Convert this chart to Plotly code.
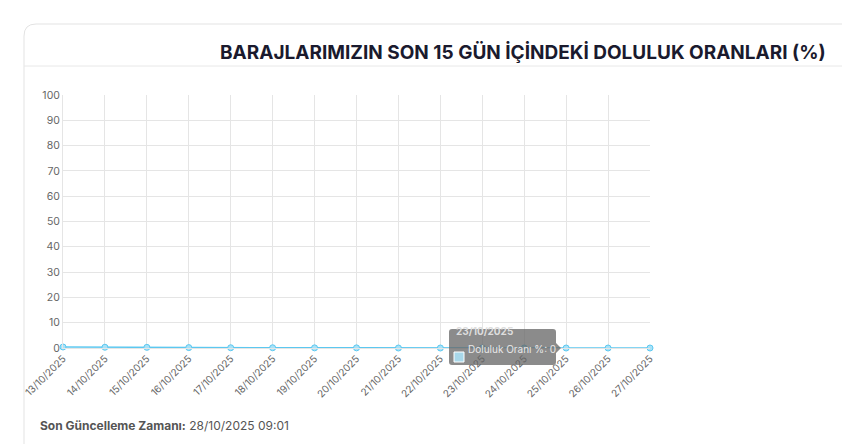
import plotly.graph_objects as go

dates = ["13/10/2025","14/10/2025","15/10/2025","16/10/2025","17/10/2025","18/10/2025","19/10/2025",
         "20/10/2025","21/10/2025","22/10/2025","23/10/2025","24/10/2025","25/10/2025","26/10/2025","27/10/2025"]
values = [0.4,0.3,0.25,0.15,0.1,0.1,0.05,0.05,0,0,0,0,0,0,0]
yticks = list(range(0,101,10))
title = "BARAJLARIMIZIN SON 15 GÜN İÇİNDEKİ DOLULUK ORANLARI (%)"

L,R,T,B = 55,642,87,340
def px(x): return (x-L)/(R-L)
def py(y): return (B-y)/(B-T)

fig = go.Figure(go.Scatter(x=list(range(len(dates))), y=values, mode="lines+markers",
    line=dict(color="#5cc8f0", width=1.5),
    marker=dict(size=6, color="#a8e2f8", line=dict(color="#5cc8f0", width=1)),
    cliponaxis=False, hoverinfo="skip"))

shapes = [
    dict(type="path", xref="paper", yref="paper", layer="below",
         path=f"M {px(870)} {py(16)} L {px(28)} {py(16)} Q {px(16)} {py(16)} {px(16)} {py(28)} L {px(16)} {py(460)}",
         line=dict(color="#e3e3e3", width=1)),
    dict(type="line", xref="paper", yref="paper", x0=px(16), x1=px(870), y0=py(58), y1=py(58),
         line=dict(color="#e8e8e8", width=1)),
    dict(type="path", xref="paper", yref="paper", fillcolor="rgba(100,100,100,0.75)", line=dict(width=0),
         path=f"M {px(444)} {py(321)} L {px(545)} {py(321)} Q {px(548)} {py(321)} {px(548)} {py(324)} L {px(548)} {py(335)} L {px(553)} {py(340)} L {px(548)} {py(345)} L {px(548)} {py(354)} Q {px(548)} {py(357)} {px(545)} {py(357)} L {px(444)} {py(357)} Q {px(441)} {py(357)} {px(441)} {py(354)} L {px(441)} {py(324)} Q {px(441)} {py(321)} {px(444)} {py(321)} Z"),
    dict(type="rect", xref="paper", yref="paper", x0=px(446), x1=px(456), y0=py(354), y1=py(344),
         fillcolor="#a8d8ea", line=dict(color="white", width=1)),
]
annotations = [
    dict(text=f"<b>{title}</b>", x=px(515), y=py(31), xref="paper", yref="paper", showarrow=False,
         xanchor="center", font=dict(size=19, color="#1a1a2e", family="Inter")),
    dict(text="<b>23/10/2025</b>", x=px(446), y=py(331), xref="paper", yref="paper", showarrow=False,
         xanchor="left", font=dict(size=10, color="#dddddd", family="Inter")),
    dict(text="Doluluk Oranı %: 0", x=px(458), y=py(349), xref="paper", yref="paper", showarrow=False,
         xanchor="left", font=dict(size=10, color="#e8e8e8", family="Inter")),
    dict(text="<b>Son Güncelleme Zamanı:</b> 28/10/2025 09:01", x=px(30), y=py(427), xref="paper", yref="paper",
         showarrow=False, xanchor="left", font=dict(size=12, color="#555555", family="Inter")),
]

fig.update_layout(width=850, height=444, margin=dict(l=L, r=850-R, t=T, b=444-B, autoexpand=False),
    paper_bgcolor="white", plot_bgcolor="white", showlegend=False,
    font=dict(family="Inter", color="#666666", size=11),
    shapes=shapes, annotations=annotations,
    xaxis=dict(range=[0,len(dates)-1], tickmode="array", tickvals=list(range(len(dates))), ticktext=dates,
               tickangle=-45, showgrid=True, gridcolor="#e5e5e5", zeroline=False, automargin=False,
               showline=True, linecolor="#e5e5e5", ticks="", tickfont=dict(size=10)),
    yaxis=dict(range=[0,100], tickvals=yticks, showgrid=True, gridcolor="#e5e5e5", zeroline=False,
               automargin=False, showline=True, linecolor="#e5e5e5", ticks="", tickfont=dict(size=10.5)))
fig.write_html("out.html")
